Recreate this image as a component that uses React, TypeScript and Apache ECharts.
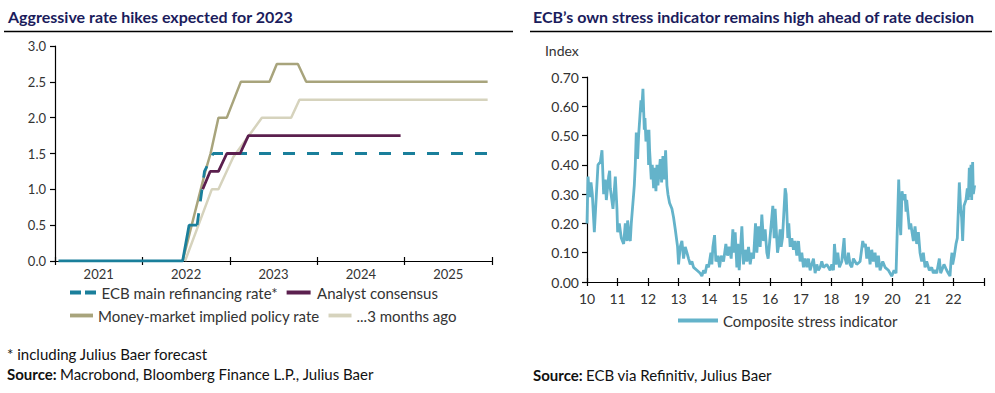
import React, { useEffect, useRef } from 'react';
import * as echarts from 'echarts';

// ---------- Left chart data ----------
const yearLabels = ['2021', '2022', '2023', '2024', '2025'];
const ecbHistory: [number, number][] = [[2021.04, 0], [2022.46, 0], [2022.534, 0.5], [2022.626, 0.5]];
const ecbForecast: [number, number][] = [[2022.626, 0.5], [2022.71, 1.25], [2022.81, 1.5], [2025.95, 1.5]];
const analystConsensus: [number, number][] = [
  [2022.69, 1.0], [2022.775, 1.25], [2022.87, 1.25], [2022.966, 1.5], [2023.118, 1.5], [2023.213, 1.75], [2024.954, 1.75],
];
const moneyMarket: [number, number][] = [
  [2022.46, 0], [2022.72, 1.25], [2022.78, 1.5], [2022.87, 2.0], [2022.966, 2.0], [2023.126, 2.5], [2023.454, 2.5],
  [2023.538, 2.75], [2023.779, 2.75], [2023.874, 2.5], [2025.95, 2.5],
];
const threeMonthsAgo: [number, number][] = [
  [2022.488, 0], [2022.794, 1.0], [2022.87, 1.0], [2023.04, 1.45], [2023.367, 2.0], [2023.702, 2.0], [2023.797, 2.25], [2025.95, 2.25],
];

// ---------- Right chart data (year 20xx, index) ----------
const stressSeries: [number, number][] = [
  [10.000, 0.20], [10.033, 0.36], [10.087, 0.29], [10.131, 0.34], [10.174, 0.30], [10.240, 0.17], [10.360, 0.40], [10.436, 0.41],
  [10.491, 0.45], [10.545, 0.30], [10.600, 0.35], [10.633, 0.28], [10.709, 0.36], [10.742, 0.38], [10.763, 0.32], [10.851, 0.25],
  [10.927, 0.36], [10.981, 0.25], [11.003, 0.17], [11.058, 0.20], [11.123, 0.15], [11.200, 0.13], [11.254, 0.20], [11.309, 0.14],
  [11.330, 0.21], [11.385, 0.15], [11.418, 0.14], [11.450, 0.20], [11.527, 0.30], [11.549, 0.33], [11.581, 0.40], [11.614, 0.51],
  [11.658, 0.42], [11.690, 0.50], [11.723, 0.55], [11.767, 0.62], [11.788, 0.58], [11.832, 0.66], [11.876, 0.52], [11.898, 0.56],
  [11.930, 0.48], [11.985, 0.52], [12.017, 0.40], [12.028, 0.52], [12.050, 0.45], [12.105, 0.35], [12.137, 0.40], [12.181, 0.32],
  [12.214, 0.39], [12.257, 0.31], [12.290, 0.40], [12.323, 0.33], [12.399, 0.42], [12.443, 0.34], [12.486, 0.43], [12.530, 0.35],
  [12.574, 0.45], [12.617, 0.33], [12.650, 0.30], [12.704, 0.27], [12.781, 0.25], [12.835, 0.22], [12.890, 0.18], [12.966, 0.12],
  [12.999, 0.06], [13.053, 0.12], [13.108, 0.14], [13.162, 0.08], [13.217, 0.12], [13.272, 0.10], [13.326, 0.08], [13.381, 0.06],
  [13.435, 0.07], [13.490, 0.05], [13.599, 0.04], [13.708, 0.03], [13.762, 0.02], [13.817, 0.04], [13.871, 0.03], [13.926, 0.06],
  [13.980, 0.05], [14.057, 0.10], [14.089, 0.06], [14.122, 0.12], [14.177, 0.16], [14.220, 0.07], [14.286, 0.09], [14.340, 0.05],
  [14.395, 0.09], [14.471, 0.07], [14.547, 0.13], [14.602, 0.09], [14.656, 0.12], [14.722, 0.08], [14.776, 0.18], [14.820, 0.10],
  [14.853, 0.17], [14.907, 0.05], [14.940, 0.13], [14.984, 0.04], [15.071, 0.19], [15.125, 0.06], [15.180, 0.11], [15.234, 0.07],
  [15.289, 0.12], [15.344, 0.06], [15.398, 0.10], [15.453, 0.08], [15.518, 0.20], [15.562, 0.10], [15.616, 0.19], [15.671, 0.12],
  [15.725, 0.23], [15.780, 0.14], [15.834, 0.18], [15.889, 0.10], [15.932, 0.08], [16.085, 0.26], [16.129, 0.15], [16.161, 0.25],
  [16.238, 0.10], [16.270, 0.12], [16.325, 0.18], [16.358, 0.12], [16.401, 0.15], [16.489, 0.32], [16.521, 0.30], [16.576, 0.15],
  [16.608, 0.20], [16.652, 0.12], [16.707, 0.15], [16.761, 0.11], [16.816, 0.14], [16.870, 0.09], [16.925, 0.14], [16.979, 0.07],
  [17.034, 0.10], [17.088, 0.05], [17.143, 0.08], [17.197, 0.05], [17.252, 0.08], [17.306, 0.04], [17.361, 0.06], [17.415, 0.08],
  [17.470, 0.03], [17.525, 0.06], [17.579, 0.04], [17.634, 0.05], [17.688, 0.07], [17.743, 0.05], [17.852, 0.06], [17.961, 0.04],
  [18.015, 0.06], [18.070, 0.04], [18.103, 0.13], [18.157, 0.06], [18.212, 0.10], [18.266, 0.05], [18.342, 0.07], [18.419, 0.15],
  [18.451, 0.08], [18.506, 0.06], [18.560, 0.10], [18.615, 0.06], [18.670, 0.05], [18.724, 0.08], [18.833, 0.06], [18.942, 0.07],
  [19.029, 0.14], [19.073, 0.12], [19.117, 0.13], [19.160, 0.08], [19.215, 0.12], [19.269, 0.06], [19.324, 0.11], [19.378, 0.07],
  [19.433, 0.10], [19.487, 0.05], [19.542, 0.09], [19.597, 0.04], [19.684, 0.07], [19.760, 0.05], [19.869, 0.04], [19.978, 0.02],
  [20.055, 0.04], [20.120, 0.03], [20.207, 0.35], [20.251, 0.20], [20.273, 0.16], [20.316, 0.31], [20.360, 0.28], [20.414, 0.30],
  [20.447, 0.24], [20.469, 0.28], [20.523, 0.22], [20.556, 0.18], [20.600, 0.20], [20.687, 0.14], [20.742, 0.19], [20.796, 0.13],
  [20.851, 0.17], [20.905, 0.10], [20.960, 0.07], [21.014, 0.10], [21.069, 0.05], [21.123, 0.07], [21.210, 0.04], [21.287, 0.05],
  [21.341, 0.03], [21.396, 0.04], [21.450, 0.03], [21.538, 0.08], [21.581, 0.03], [21.690, 0.06], [21.778, 0.04], [21.832, 0.03],
  [21.887, 0.02], [21.919, 0.07], [21.952, 0.10], [21.974, 0.06], [22.028, 0.09], [22.083, 0.13], [22.126, 0.15], [22.192, 0.34],
  [22.235, 0.25], [22.268, 0.22], [22.301, 0.14], [22.344, 0.26], [22.410, 0.28], [22.454, 0.32], [22.486, 0.28], [22.519, 0.39],
  [22.541, 0.29], [22.574, 0.40], [22.596, 0.28], [22.628, 0.41], [22.650, 0.30], [22.694, 0.33],
];

const FONT = 'Lato, "Open Sans", sans-serif';
const TEAL = '#1a7f9b';
const PURPLE = '#5b1f4e';
const OLIVE = '#a8a47c';
const BEIGE = '#d6d3bd';
const STRESS = '#64b3ca';
const NAVY = '#1b1c5c';
const TXT = '#333333';

const DASH_ICON = 'path://M0,0h11v4h-11z M15,0h11v4h-11z';
const LINE_ICON = 'path://M0,0h24v4h-24z';

export default function App() {
  const ref = useRef<HTMLDivElement>(null);
  useEffect(() => {
    if (!ref.current) return;
    const chart = echarts.init(ref.current, undefined, { renderer: 'svg' });
    const axisLine = { show: true, lineStyle: { color: '#000', width: 1.2 } };
    const tickStyle = { color: '#000', width: 1.2 };
    const legendText = { color: TXT, fontSize: 15, fontFamily: FONT };
    const option: any = {
      animation: false,
      textStyle: { fontFamily: FONT },
      grid: [
        { left: 55, top: 46, width: 437, height: 215, containLabel: false },
        { left: 587, top: 77, width: 397, height: 205, containLabel: false },
      ],
      xAxis: [
        {
          gridIndex: 0, type: 'value', min: 2021, max: 2026, interval: 1, position: 'bottom',
          axisLine, axisTick: { show: true, length: 4, lineStyle: tickStyle },
          axisLabel: { show: false }, splitLine: { show: false },
        },
        {
          gridIndex: 0, type: 'category', data: yearLabels, boundaryGap: true, position: 'bottom',
          axisLine: { show: false }, axisTick: { show: false },
          axisLabel: { color: TXT, fontSize: 13, fontFamily: FONT, margin: 6 },
        },
        {
          gridIndex: 0, type: 'value', min: 2021, max: 2026, interval: 1, position: 'bottom',
          axisLine: { show: false }, axisTick: { show: true, inside: true, length: 4, lineStyle: tickStyle },
          axisLabel: { show: false }, splitLine: { show: false },
        },
        {
          gridIndex: 1, type: 'value', min: 10, max: 23, interval: 1, position: 'bottom',
          axisLine, axisTick: { show: true, length: 4, lineStyle: tickStyle },
          axisLabel: { color: TXT, fontSize: 14, fontFamily: FONT, margin: 9, formatter: (v: number) => (v >= 23 ? '' : String(v)) },
          splitLine: { show: false },
        },
        {
          gridIndex: 1, type: 'value', min: 10, max: 23, interval: 1, position: 'bottom',
          axisLine: { show: false }, axisTick: { show: true, inside: true, length: 4, lineStyle: tickStyle },
          axisLabel: { show: false }, splitLine: { show: false },
        },
      ],
      yAxis: [
        {
          gridIndex: 0, type: 'value', min: 0, max: 3, interval: 0.5,
          axisLine, axisTick: { show: true, length: 5, lineStyle: tickStyle },
          axisLabel: { color: TXT, fontSize: 13, fontFamily: FONT, margin: 9, formatter: (v: number) => v.toFixed(1) },
          splitLine: { show: false },
        },
        {
          gridIndex: 1, type: 'value', min: 0, max: 0.7, interval: 0.1,
          axisLine, axisTick: { show: true, length: 5, lineStyle: tickStyle },
          axisLabel: { color: TXT, fontSize: 14, fontFamily: FONT, margin: 8, formatter: (v: number) => v.toFixed(2) },
          splitLine: { show: false },
        },
      ],
      legend: [
        {
          left: 70, top: 285, padding: 0, itemWidth: 27, itemHeight: 4, itemGap: 9, textStyle: legendText,
          data: [
            { name: 'ECB main refinancing rate*', icon: DASH_ICON },
            { name: 'Analyst consensus', icon: LINE_ICON },
          ],
        },
        {
          left: 70, top: 308, padding: 0, itemWidth: 23, itemHeight: 4, itemGap: 9, textStyle: legendText,
          data: [
            { name: 'Money-market implied policy rate', icon: LINE_ICON },
            { name: '...3 months ago', icon: LINE_ICON },
          ],
        },
        {
          left: 678, top: 313, padding: 0, itemWidth: 40, itemHeight: 4, itemGap: 8, textStyle: legendText,
          data: [{ name: 'Composite stress indicator', icon: 'path://M0,0h40v4h-40z' }],
        },
      ],
      series: [
        {
          name: '...3 months ago', type: 'line', xAxisIndex: 0, yAxisIndex: 0, data: threeMonthsAgo,
          symbol: 'none', lineStyle: { color: BEIGE, width: 2.5 }, itemStyle: { color: BEIGE },
        },
        {
          name: 'Money-market implied policy rate', type: 'line', xAxisIndex: 0, yAxisIndex: 0, data: moneyMarket,
          symbol: 'none', lineStyle: { color: OLIVE, width: 2.5 }, itemStyle: { color: OLIVE },
        },
        {
          name: 'ECB history', type: 'line', xAxisIndex: 0, yAxisIndex: 0, data: ecbHistory,
          symbol: 'none', lineStyle: { color: TEAL, width: 2.8 }, itemStyle: { color: TEAL },
        },
        {
          name: 'ECB main refinancing rate*', type: 'line', xAxisIndex: 0, yAxisIndex: 0, data: ecbForecast,
          symbol: 'none', lineStyle: { color: TEAL, width: 2.8, type: [12, 12] }, itemStyle: { color: TEAL },
        },
        {
          name: 'Analyst consensus', type: 'line', xAxisIndex: 0, yAxisIndex: 0, data: analystConsensus,
          symbol: 'none', lineStyle: { color: PURPLE, width: 2.8 }, itemStyle: { color: PURPLE },
        },
        {
          name: 'Composite stress indicator', type: 'line', xAxisIndex: 3, yAxisIndex: 1, data: stressSeries,
          symbol: 'none', lineStyle: { color: STRESS, width: 2.8 }, itemStyle: { color: STRESS },
        },
      ],
      graphic: [
        { type: 'text', left: 8, top: 8, style: { text: 'Aggressive rate hikes expected for 2023', fill: NAVY, font: `bold 16px ${FONT}` } },
        { type: 'text', left: 533, top: 8, style: { text: 'ECB\u2019s own stress indicator remains high ahead of rate decision', fill: NAVY, font: `bold 16px ${FONT}` } },
        { type: 'line', shape: { x1: 4, y1: 31.5, x2: 513, y2: 31.5 }, style: { stroke: '#000', lineWidth: 1.5 } },
        { type: 'line', shape: { x1: 530, y1: 31.5, x2: 992, y2: 31.5 }, style: { stroke: '#000', lineWidth: 1.5 } },
        { type: 'text', left: 545, top: 43, style: { text: 'Index', fill: TXT, font: `14px ${FONT}` } },
        { type: 'text', left: 7, top: 346, style: { text: '* including Julius Baer forecast', fill: '#111', font: `15px ${FONT}` } },
        {
          type: 'text', left: 7, top: 366,
          style: {
            text: '{b|Source:} {r|Macrobond, Bloomberg Finance L.P., Julius Baer}',
            rich: { b: { fontWeight: 'bold', fontSize: 15, fontFamily: FONT, fill: '#111' }, r: { fontSize: 15, fontFamily: FONT, fill: '#111' } },
          },
        },
        {
          type: 'text', left: 533, top: 367,
          style: {
            text: '{b|Source:} {r|ECB via Refinitiv, Julius Baer}',
            rich: { b: { fontWeight: 'bold', fontSize: 15, fontFamily: FONT, fill: '#111' }, r: { fontSize: 15, fontFamily: FONT, fill: '#111' } },
          },
        },
      ],
    };
    chart.setOption(option);
    return () => chart.dispose();
  }, []);
  return <div ref={ref} style={{ position: 'fixed', left: 0, top: 0, width: 995, height: 393, background: '#fff' }} />;
}
